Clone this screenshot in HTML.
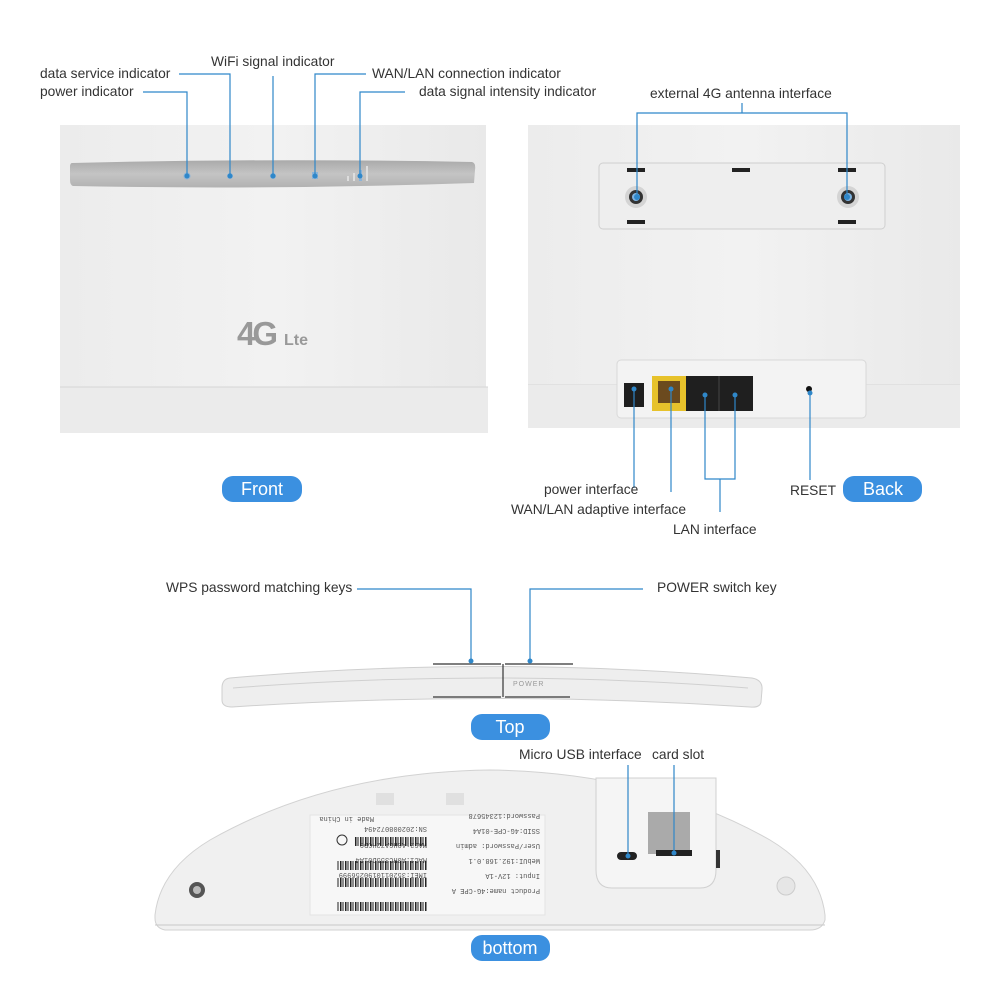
<!DOCTYPE html>
<html><head><meta charset="utf-8"><style>
html,body{margin:0;padding:0;background:#fff;}
svg{display:block}
text{font-family:"Liberation Sans",sans-serif;}
.lb{font-size:13.8px;fill:#333;}
.ln{stroke:#2f87c9;stroke-width:1.2;fill:none}
.dot{fill:#2f87c9}
.pill{fill:#3b90e0}
.pt{font-size:18px;fill:#fff;text-anchor:middle}
.tiny{font-family:"Liberation Mono",monospace;font-size:7px;fill:#555}
</style></head><body>
<svg width="1000" height="1000" viewBox="0 0 1000 1000" xmlns="http://www.w3.org/2000/svg">
<defs>
<linearGradient id="bar" x1="0" y1="0" x2="0" y2="1"><stop offset="0" stop-color="#a9a9a9"/><stop offset="0.5" stop-color="#c4c4c4"/><stop offset="1" stop-color="#b2b2b2"/></linearGradient>
<linearGradient id="body" x1="0" y1="0" x2="1" y2="0"><stop offset="0" stop-color="#ececec"/><stop offset="0.5" stop-color="#f2f2f2"/><stop offset="1" stop-color="#e9e9e9"/></linearGradient>
<pattern id="bc" width="5" height="10" patternUnits="userSpaceOnUse"><rect width="1.5" height="10" fill="#222"/><rect x="2.5" width="1" height="10" fill="#222"/></pattern>
</defs>

<!-- FRONT device -->
<rect x="60" y="125" width="426" height="308" fill="url(#body)"/>
<rect x="60" y="387" width="428" height="46" fill="#ebebeb"/>
<line x1="60" y1="387" x2="488" y2="387" stroke="#d6d6d6"/>
<path d="M72 163 Q272 158 472 162 Q476 163 475 170 L474 183 Q272 190 73 186 Q70 185 70 180 L70 167 Q70 163 72 163Z" fill="url(#bar)"/>
<circle cx="187" cy="176" r="3.5" fill="#8ab3d8"/>
<circle cx="230" cy="176" r="3" fill="#8ab3d8"/>
<circle cx="273" cy="176" r="3" fill="#8ab3d8"/>
<rect x="312" y="172" width="6" height="7" fill="#8ab3d8"/>
<rect x="347" y="176" width="2" height="5" fill="#ddd"/><rect x="353" y="173" width="2" height="8" fill="#ddd"/><rect x="359" y="170" width="3" height="11" fill="#8ab3d8"/><rect x="366" y="166" width="2" height="15" fill="#ddd"/>
<text x="237" y="345" font-size="33" font-weight="bold" fill="#999" letter-spacing="-3">4G</text>
<text x="284" y="345" font-size="16" font-weight="bold" fill="#999">Lte</text>

<!-- front labels -->
<text class="lb" x="40" y="78">data service indicator</text>
<text class="lb" x="40" y="96">power indicator</text>
<text class="lb" x="211" y="66">WiFi signal indicator</text>
<text class="lb" x="372" y="78">WAN/LAN connection indicator</text>
<text class="lb" x="419" y="96">data signal intensity indicator</text>
<path class="ln" d="M143 92 H187 V176"/><circle class="dot" cx="187" cy="176" r="2.5"/>
<path class="ln" d="M179 74 H230 V176"/><circle class="dot" cx="230" cy="176" r="2.5"/>
<path class="ln" d="M273 76 V176"/><circle class="dot" cx="273" cy="176" r="2.5"/>
<path class="ln" d="M366 74 H315 V176"/><circle class="dot" cx="315" cy="176" r="2.5"/>
<path class="ln" d="M405 92 H360 V176"/><circle class="dot" cx="360" cy="176" r="2.5"/>

<rect class="pill" x="222" y="476" width="80" height="26" rx="11"/>
<text class="pt" x="262" y="495">Front</text>

<!-- BACK device -->
<rect x="528" y="125" width="432" height="303" fill="url(#body)"/>
<line x1="528" y1="385" x2="960" y2="385" stroke="#d6d6d6"/>
<rect x="528" y="385" width="432" height="43" fill="#ebebeb"/>
<rect x="599" y="163" width="286" height="66" rx="4" fill="#eeeeee" stroke="#cfcfcf"/>
<rect x="627" y="168" width="18" height="4" fill="#222"/><rect x="732" y="168" width="18" height="4" fill="#222"/><rect x="838" y="168" width="18" height="4" fill="#222"/>
<rect x="627" y="220" width="18" height="4" fill="#222"/><rect x="838" y="220" width="18" height="4" fill="#222"/>
<circle cx="636" cy="197" r="11" fill="#d4d4d4"/><circle cx="636" cy="197" r="7" fill="#333"/><circle cx="636" cy="197" r="4" fill="#7fb3e0"/>
<circle cx="848" cy="197" r="11" fill="#d4d4d4"/><circle cx="848" cy="197" r="7" fill="#333"/><circle cx="848" cy="197" r="4" fill="#7fb3e0"/>
<text class="lb" x="650" y="98">external 4G antenna interface</text>
<path class="ln" d="M637 197 V113 H847 V197 M742 113 V103"/>
<circle class="dot" cx="637" cy="197" r="3"/><circle class="dot" cx="847" cy="197" r="3"/>

<rect x="617" y="360" width="249" height="58" rx="4" fill="#f3f3f3" stroke="#d8d8d8"/>
<rect x="624" y="383" width="20" height="24" fill="#1e1e1e"/>
<rect x="652" y="376" width="34" height="35" fill="#e7c22b"/><rect x="658" y="381" width="22" height="22" fill="#6b4a1e"/>
<rect x="686" y="376" width="67" height="35" fill="#1f1f1f"/><line x1="719" y1="376" x2="719" y2="411" stroke="#444"/>
<circle cx="809" cy="389" r="3" fill="#111"/>
<path class="ln" d="M634 389 V488"/><circle class="dot" cx="634" cy="389" r="2.5"/>
<path class="ln" d="M671 389 V492"/><circle class="dot" cx="671" cy="389" r="2.5"/>
<path class="ln" d="M705 395 V479 H735 V395 M720 479 V512"/><circle class="dot" cx="705" cy="395" r="2.5"/><circle class="dot" cx="735" cy="395" r="2.5"/>
<path class="ln" d="M810 393 V480"/><circle class="dot" cx="810" cy="393" r="2.5"/>
<text class="lb" x="544" y="494">power interface</text>
<text class="lb" x="511" y="514">WAN/LAN adaptive interface</text>
<text class="lb" x="673" y="534">LAN interface</text>
<text class="lb" x="790" y="495">RESET</text>
<rect class="pill" x="843" y="476" width="79" height="26" rx="11"/>
<text class="pt" x="883" y="495">Back</text>

<!-- TOP -->
<path d="M230 678 Q490 655 752 678 Q763 680 762 690 L761 702 Q760 708 750 707 Q490 690 232 707 Q222 707 222 700 L222 688 Q222 679 230 678Z" fill="#eeeeee" stroke="#cfcfcf"/>
<path d="M233 688 Q490 668 748 688" stroke="#d0d0d0" fill="none"/>
<line x1="433" y1="664" x2="501" y2="664" stroke="#555" stroke-width="1.5"/>
<line x1="505" y1="664" x2="573" y2="664" stroke="#555" stroke-width="1.5"/>
<line x1="433" y1="697" x2="501" y2="697" stroke="#555" stroke-width="1.5"/>
<line x1="505" y1="697" x2="570" y2="697" stroke="#555" stroke-width="1.5"/>
<line x1="503" y1="664" x2="503" y2="697" stroke="#333" stroke-width="1.2"/>
<text x="513" y="686" font-size="7" fill="#999" letter-spacing="1">POWER</text>
<text class="lb" x="166" y="592">WPS password matching keys</text>
<text class="lb" x="657" y="592">POWER switch key</text>
<path class="ln" d="M357 589 H471 V661 M643 589 H530 V661"/>
<circle class="dot" cx="471" cy="661" r="2.5"/><circle class="dot" cx="530" cy="661" r="2.5"/>
<rect class="pill" x="471" y="714" width="79" height="26" rx="11"/>
<text class="pt" x="510" y="733">Top</text>

<!-- BOTTOM -->
<path d="M155 915 Q160 870 210 840 Q330 772 490 770 Q650 772 770 840 Q820 870 825 915 L825 920 Q822 930 810 930 L165 930 Q155 928 155 918Z" fill="#f0f0f0" stroke="#d2d2d2"/>
<path d="M155 925 L825 925" stroke="#c9c9c9"/>
<rect x="376" y="793" width="18" height="12" fill="#e0e0e0"/><rect x="446" y="793" width="18" height="12" fill="#e0e0e0"/>
<rect x="310" y="815" width="235" height="100" fill="#f7f7f7" stroke="#e3e3e3"/>
<g transform="rotate(180 427 865)">
<text class="tiny" x="314" y="841">Product name:4G-CPE A</text>
<text class="tiny" x="314" y="856">Input: 12V-1A</text>
<text class="tiny" x="314" y="871">WebUI:192.168.0.1</text>
<text class="tiny" x="314" y="886">User/Password: admin</text>
<text class="tiny" x="314" y="901">SSID:4G-CPE-01A4</text>
<text class="tiny" x="314" y="916">Password:12345678</text>
<text class="tiny" x="427" y="857">IMEI:3520110190256999</text>
<text class="tiny" x="427" y="872">MAC1:A0HC355D01A4</text>
<text class="tiny" x="427" y="887">MAC2:A0HCA72HCD0</text>
<text class="tiny" x="427" y="903">SN:202008072494</text>
<text class="tiny" x="480" y="913">Made in China</text>
</g>
<rect x="337" y="902" width="90" height="9" fill="url(#bc)"/>
<rect x="337" y="878" width="90" height="9" fill="url(#bc)"/>
<rect x="337" y="861" width="90" height="9" fill="url(#bc)"/>
<rect x="355" y="837" width="72" height="9" fill="url(#bc)"/>
<circle cx="342" cy="840" r="5" fill="none" stroke="#333"/>
<path d="M596 778 L716 778 L716 870 Q716 888 700 888 L612 888 Q596 888 596 870Z" fill="#f5f5f5" stroke="#d0d0d0"/>
<rect x="648" y="812" width="42" height="42" fill="#aaa"/>
<rect x="656" y="850" width="36" height="6" fill="#222"/>
<rect x="617" y="852" width="20" height="8" rx="4" fill="#222"/>
<rect x="716" y="850" width="4" height="18" fill="#333"/>
<circle cx="197" cy="890" r="8" fill="#555"/><circle cx="197" cy="890" r="4" fill="#bbb"/>
<circle cx="786" cy="886" r="9" fill="#e6e6e6" stroke="#ccc"/>
<path class="ln" d="M628 765 V856 M674 765 V853"/>
<circle class="dot" cx="628" cy="856" r="2.5"/><circle class="dot" cx="674" cy="853" r="2.5"/>
<text class="lb" x="519" y="759">Micro USB interface</text>
<text class="lb" x="652" y="759">card slot</text>
<rect class="pill" x="471" y="935" width="79" height="26" rx="11"/>
<text class="pt" x="510" y="954">bottom</text>
</svg>
</body></html>
